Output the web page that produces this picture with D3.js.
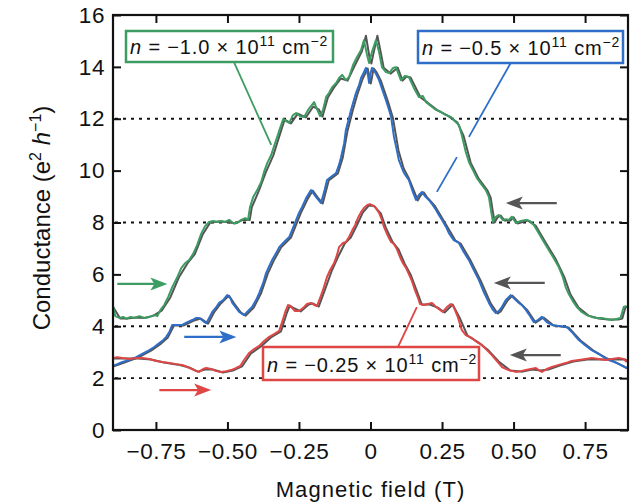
<!DOCTYPE html>
<html><head><meta charset="utf-8">
<script src="https://cdn.jsdelivr.net/npm/d3@7"></script>
<style>body{margin:0;background:#fff} text{font-family:"Liberation Sans",Arial,Helvetica,sans-serif;fill:#111}</style>
</head><body><svg id="c" width="633" height="503"></svg>
<script>
// ---------- DATA ----------
const xTicks = [-0.75, -0.5, -0.25, 0, 0.25, 0.5, 0.75];
const xTickLabels = ["\u22120.75", "\u22120.50", "\u22120.25", "0", "0.25", "0.50", "0.75"];
const yTicks = [0, 2, 4, 6, 8, 10, 12, 14, 16];
const plateaus = [2, 4, 8, 12];
const densities = ["\u22121.0", "\u22120.5", "\u22120.25"];

// n = -1.0e11 (green), forward sweep [B (T), G (e^2/h)]
const greenFwd = [[-0.90,4.78],[-0.892,4.39],[-0.878,4.32],[-0.864,4.36],[-0.853,4.28],[-0.839,4.36],[-0.825,4.32],[-0.808,4.39],[-0.790,4.32],[-0.773,4.36],[-0.755,4.43],[-0.745,4.39],[-0.734,4.63],[-0.721,4.82],[-0.707,5.13],[-0.693,5.51],[-0.675,5.90],[-0.661,6.25],[-0.647,6.44],[-0.634,6.55],[-0.620,6.79],[-0.606,7.13],[-0.592,7.56],[-0.578,7.86],[-0.564,8.02],[-0.550,8.06],[-0.536,8.02],[-0.522,8.06],[-0.508,8.02],[-0.494,8.10],[-0.480,7.98],[-0.466,7.98],[-0.452,8.10],[-0.438,8.17],[-0.428,8.10],[-0.421,8.60],[-0.410,8.98],[-0.396,9.25],[-0.382,9.56],[-0.372,9.95],[-0.361,10.29],[-0.347,10.60],[-0.337,10.95],[-0.326,11.30],[-0.316,11.64],[-0.305,11.99],[-0.295,11.91],[-0.284,11.84],[-0.271,12.14],[-0.260,12.22],[-0.246,12.10],[-0.232,12.07],[-0.218,12.34],[-0.208,12.49],[-0.197,12.64],[-0.187,12.37],[-0.176,12.10],[-0.166,12.34],[-0.155,12.84],[-0.145,12.99],[-0.134,13.22],[-0.120,13.38],[-0.110,13.57],[-0.099,13.69],[-0.086,13.49],[-0.075,13.61],[-0.061,14.07],[-0.047,14.38],[-0.033,14.65],[-0.023,15.03],[-0.012,14.46],[-0.005,14.15],[0.005,14.57],[0.019,15.03],[0.030,14.57],[0.040,13.99],[0.054,13.80],[0.065,13.76],[0.079,13.96],[0.089,13.99],[0.106,13.49],[0.120,13.65],[0.134,13.61],[0.152,13.18],[0.169,12.84],[0.183,12.88],[0.194,12.64],[0.211,12.49],[0.229,12.34],[0.246,12.26],[0.264,12.14],[0.281,12.07],[0.298,11.87],[0.309,11.76],[0.319,11.37],[0.333,10.72],[0.344,10.33],[0.358,10.02],[0.372,9.71],[0.389,9.45],[0.403,9.25],[0.414,8.98],[0.421,8.48],[0.428,8.02],[0.438,8.22],[0.449,8.29],[0.462,8.10],[0.473,8.13],[0.483,8.10],[0.494,8.22],[0.508,7.98],[0.525,8.06],[0.543,8.10],[0.557,8.06],[0.571,7.90],[0.588,7.59],[0.606,7.25],[0.623,6.94],[0.640,6.63],[0.658,6.28],[0.672,5.90],[0.682,5.51],[0.693,5.24],[0.707,4.97],[0.721,4.74],[0.738,4.55],[0.756,4.43],[0.773,4.36],[0.791,4.32],[0.808,4.32],[0.825,4.28],[0.843,4.24],[0.860,4.28],[0.874,4.32],[0.885,4.74],[0.895,4.78]];
// reverse sweep (grey)
const greenRev = [[-0.90,4.75],[-0.875,4.30],[-0.85,4.30],[-0.82,4.34],[-0.79,4.32],[-0.76,4.40],[-0.73,4.60],[-0.70,5.10],[-0.67,5.88],[-0.64,6.42],[-0.614,6.78],[-0.586,7.55],[-0.56,8.00],[-0.53,8.04],[-0.50,8.02],[-0.474,7.96],[-0.446,8.10],[-0.422,8.10],[-0.415,8.58],[-0.39,9.23],[-0.366,9.93],[-0.34,10.58],[-0.32,11.28],[-0.30,11.97],[-0.278,11.82],[-0.254,12.20],[-0.226,12.05],[-0.20,12.47],[-0.18,12.35],[-0.168,12.08],[-0.149,12.82],[-0.128,13.20],[-0.104,13.55],[-0.08,13.47],[-0.055,14.05],[-0.03,14.60],[-0.016,15.20],[-0.004,14.40],[0.003,14.13],[0.011,14.55],[0.024,15.20],[0.036,14.55],[0.046,13.97],[0.07,13.74],[0.095,13.97],[0.112,13.47],[0.126,13.63],[0.14,13.59],[0.175,12.82],[0.20,12.62],[0.235,12.32],[0.27,12.12],[0.304,11.85],[0.325,11.35],[0.35,10.31],[0.378,9.69],[0.409,9.23],[0.42,8.96],[0.427,8.46],[0.434,8.00],[0.444,8.20],[0.455,8.27],[0.468,8.08],[0.489,8.08],[0.50,8.20],[0.514,7.96],[0.549,8.08],[0.577,7.88],[0.612,7.23],[0.646,6.61],[0.678,5.88],[0.699,5.22],[0.727,4.72],[0.762,4.41],[0.797,4.30],[0.831,4.26],[0.866,4.26],[0.88,4.30],[0.891,4.72],[0.90,4.76]];

// n = -0.5e11 (blue)
const blueFwd = [[-0.90,2.47],[-0.885,2.54],[-0.867,2.62],[-0.843,2.70],[-0.819,2.81],[-0.798,2.93],[-0.773,3.08],[-0.756,3.20],[-0.738,3.35],[-0.724,3.47],[-0.714,3.59],[-0.703,3.78],[-0.693,4.05],[-0.675,4.05],[-0.658,4.05],[-0.640,4.16],[-0.623,4.24],[-0.609,4.32],[-0.599,4.32],[-0.585,4.20],[-0.574,4.12],[-0.564,4.32],[-0.553,4.55],[-0.539,4.74],[-0.529,4.90],[-0.515,5.01],[-0.501,5.20],[-0.490,5.09],[-0.483,4.90],[-0.469,4.70],[-0.459,4.55],[-0.442,4.43],[-0.428,4.59],[-0.414,4.74],[-0.400,5.01],[-0.389,5.28],[-0.375,5.67],[-0.365,6.05],[-0.354,6.32],[-0.344,6.55],[-0.330,6.82],[-0.319,7.05],[-0.302,7.25],[-0.284,7.44],[-0.267,7.90],[-0.250,8.37],[-0.239,8.60],[-0.225,8.94],[-0.208,9.25],[-0.190,8.98],[-0.173,8.75],[-0.162,9.18],[-0.152,9.64],[-0.134,9.79],[-0.120,9.91],[-0.110,10.22],[-0.103,10.52],[-0.092,11.06],[-0.086,11.57],[-0.075,12.03],[-0.068,12.34],[-0.058,12.72],[-0.051,12.99],[-0.040,13.30],[-0.033,13.57],[-0.023,13.80],[-0.016,13.96],[-0.009,13.69],[-0.005,13.38],[-0.002,13.65],[0.005,13.96],[0.016,13.80],[0.030,13.49],[0.044,13.03],[0.054,12.72],[0.065,12.34],[0.072,12.07],[0.082,11.30],[0.092,10.79],[0.099,10.41],[0.110,10.10],[0.117,9.91],[0.127,9.75],[0.134,9.64],[0.148,9.18],[0.159,8.87],[0.169,9.06],[0.180,9.18],[0.190,9.02],[0.204,8.87],[0.218,8.67],[0.229,8.48],[0.239,8.29],[0.250,8.10],[0.264,7.83],[0.274,7.59],[0.291,7.32],[0.309,7.21],[0.326,6.86],[0.344,6.55],[0.361,6.17],[0.379,5.78],[0.396,5.32],[0.414,4.90],[0.428,4.63],[0.438,4.51],[0.449,4.59],[0.459,4.74],[0.473,5.01],[0.490,5.20],[0.504,5.05],[0.518,4.90],[0.529,4.82],[0.543,4.63],[0.553,4.47],[0.571,4.16],[0.585,4.24],[0.599,4.36],[0.616,4.16],[0.634,4.05],[0.658,4.01],[0.686,3.97],[0.707,3.74],[0.728,3.47],[0.749,3.28],[0.773,3.08],[0.798,2.93],[0.815,2.81],[0.832,2.70],[0.853,2.62],[0.874,2.51],[0.895,2.39]];
const blueRev = [[-0.90,2.45],[-0.86,2.60],[-0.813,2.79],[-0.767,3.06],[-0.732,3.33],[-0.708,3.57],[-0.687,4.03],[-0.652,4.03],[-0.617,4.22],[-0.593,4.30],[-0.568,4.10],[-0.547,4.53],[-0.523,4.88],[-0.495,5.18],[-0.477,4.88],[-0.453,4.53],[-0.436,4.41],[-0.408,4.72],[-0.383,5.26],[-0.359,6.03],[-0.338,6.53],[-0.313,7.03],[-0.278,7.42],[-0.244,8.35],[-0.219,8.92],[-0.202,9.23],[-0.184,8.96],[-0.167,8.73],[-0.146,9.62],[-0.114,9.89],[-0.097,10.50],[-0.08,11.55],[-0.062,12.32],[-0.045,12.97],[-0.027,13.55],[-0.01,13.94],[0.001,13.36],[0.011,13.94],[0.022,13.78],[0.036,13.47],[0.06,12.70],[0.078,12.05],[0.098,10.77],[0.116,10.08],[0.133,9.73],[0.154,9.16],[0.165,8.85],[0.175,9.04],[0.186,9.16],[0.196,9.00],[0.224,8.65],[0.245,8.27],[0.27,7.81],[0.297,7.30],[0.315,7.19],[0.35,6.53],[0.385,5.76],[0.42,4.88],[0.444,4.49],[0.455,4.57],[0.479,4.99],[0.496,5.18],[0.524,4.88],[0.549,4.61],[0.577,4.14],[0.605,4.34],[0.64,4.03],[0.692,3.95],[0.734,3.45],[0.779,3.06],[0.821,2.79],[0.859,2.60],[0.90,2.37]];

// n = -0.25e11 (red)
const redFwd = [[-0.90,2.78],[-0.885,2.81],[-0.867,2.78],[-0.843,2.74],[-0.819,2.78],[-0.798,2.78],[-0.773,2.74],[-0.749,2.66],[-0.728,2.62],[-0.703,2.58],[-0.679,2.54],[-0.658,2.51],[-0.640,2.43],[-0.623,2.35],[-0.609,2.27],[-0.599,2.24],[-0.585,2.35],[-0.574,2.39],[-0.557,2.35],[-0.539,2.27],[-0.522,2.24],[-0.504,2.27],[-0.487,2.31],[-0.469,2.39],[-0.455,2.47],[-0.442,2.70],[-0.424,2.97],[-0.407,3.12],[-0.389,3.24],[-0.372,3.43],[-0.354,3.59],[-0.337,3.70],[-0.319,3.82],[-0.309,4.16],[-0.298,4.55],[-0.288,4.82],[-0.277,4.74],[-0.264,4.59],[-0.250,4.59],[-0.236,4.70],[-0.222,4.86],[-0.208,4.90],[-0.197,4.82],[-0.187,4.78],[-0.176,5.09],[-0.166,5.40],[-0.152,5.90],[-0.141,6.17],[-0.127,6.44],[-0.117,6.75],[-0.110,7.05],[-0.096,7.21],[-0.086,7.25],[-0.075,7.44],[-0.065,7.67],[-0.054,7.90],[-0.044,8.17],[-0.033,8.40],[-0.023,8.56],[-0.012,8.67],[-0.002,8.71],[0.005,8.67],[0.016,8.60],[0.030,8.37],[0.040,8.10],[0.047,7.83],[0.061,7.48],[0.072,7.25],[0.082,7.17],[0.092,6.98],[0.103,6.67],[0.113,6.44],[0.124,6.25],[0.134,6.01],[0.145,5.74],[0.155,5.40],[0.166,5.09],[0.173,4.86],[0.187,4.82],[0.201,4.86],[0.215,4.90],[0.229,4.74],[0.243,4.63],[0.253,4.55],[0.267,4.74],[0.281,4.86],[0.291,4.74],[0.305,4.36],[0.319,3.86],[0.333,3.66],[0.354,3.55],[0.372,3.39],[0.389,3.28],[0.407,3.08],[0.424,2.89],[0.442,2.66],[0.459,2.43],[0.483,2.31],[0.508,2.24],[0.525,2.27],[0.543,2.31],[0.560,2.35],[0.578,2.39],[0.588,2.31],[0.599,2.24],[0.616,2.35],[0.634,2.43],[0.658,2.51],[0.682,2.58],[0.703,2.66],[0.728,2.70],[0.752,2.74],[0.773,2.78],[0.798,2.74],[0.822,2.70],[0.843,2.74],[0.867,2.78],[0.885,2.74],[0.895,2.62]];
const redRev = [[-0.90,2.76],[-0.861,2.76],[-0.813,2.76],[-0.767,2.72],[-0.722,2.60],[-0.673,2.52],[-0.634,2.41],[-0.603,2.25],[-0.579,2.33],[-0.551,2.33],[-0.516,2.22],[-0.481,2.29],[-0.449,2.45],[-0.418,2.95],[-0.383,3.22],[-0.348,3.57],[-0.313,3.80],[-0.292,4.53],[-0.282,4.80],[-0.271,4.72],[-0.244,4.57],[-0.216,4.84],[-0.202,4.88],[-0.181,4.76],[-0.16,5.38],[-0.135,6.15],[-0.111,6.73],[-0.09,7.19],[-0.069,7.42],[-0.048,7.88],[-0.027,8.38],[-0.006,8.65],[0.011,8.65],[0.036,8.35],[0.053,7.81],[0.078,7.23],[0.098,6.96],[0.119,6.42],[0.14,6.00],[0.161,5.38],[0.179,4.84],[0.207,4.84],[0.235,4.72],[0.259,4.53],[0.287,4.84],[0.311,4.34],[0.339,3.64],[0.378,3.37],[0.413,3.06],[0.448,2.64],[0.489,2.29],[0.531,2.25],[0.566,2.33],[0.594,2.29],[0.622,2.33],[0.664,2.49],[0.709,2.64],[0.758,2.72],[0.804,2.72],[0.849,2.72],[0.891,2.72],[0.90,2.62]];

// sweep-direction arrows [B start, B end, G]
const sweepUp = [[-0.885,-0.710,5.63],[-0.651,-0.469,3.59],[-0.738,-0.557,1.54]];
const sweepDown = [[0.651,0.473,8.75],[0.609,0.431,5.67],[0.665,0.487,2.89]];

// ---------- STYLE / LAYOUT ----------
const colors = {green:"#3d9c62", blue:"#2e6ec8", red:"#df4646", grey:"#555555"};
const m = {l:113, r:628, t:15, b:430};
const svg = d3.select("#c");
const x = d3.scaleLinear().domain([-0.9, 0.9]).range([m.l, m.r]);
const y = d3.scaleLinear().domain([0, 16]).range([m.b, m.t]);

svg.append("defs").append("clipPath").attr("id","clip")
  .append("rect").attr("x",m.l).attr("y",m.t).attr("width",m.r-m.l).attr("height",m.b-m.t);

// plateau lines
svg.append("g").selectAll("line").data(plateaus).join("line")
  .attr("x1", m.l+2).attr("x2", m.r-2).attr("y1", d=>y(d)).attr("y2", d=>y(d))
  .attr("stroke","#111").attr("stroke-width",1.8).attr("stroke-dasharray","3,5");

const line = d3.line().x(d=>x(d[0])).y(d=>y(d[1]));
const gc = svg.append("g").attr("clip-path","url(#clip)");
[greenRev, blueRev, redRev].forEach(s=>{
  gc.append("path").attr("d", line(s)).attr("fill","none").attr("stroke",colors.grey)
    .attr("stroke-width",2).attr("stroke-linejoin","round");
});
[[greenFwd,colors.green],[blueFwd,colors.blue],[redFwd,colors.red]].forEach(([s,c])=>{
  gc.append("path").attr("d", line(s)).attr("fill","none").attr("stroke",c)
    .attr("stroke-width",2).attr("stroke-linejoin","round");
});

// axes
const xb = d3.axisBottom(x).tickValues(xTicks).tickSizeInner(-8).tickSizeOuter(0).tickPadding(13)
  .tickFormat((d,i)=>xTickLabels[i]);
svg.append("g").attr("transform",`translate(0,${m.b})`).call(xb);
svg.append("g").attr("transform",`translate(0,${m.t})`)
  .call(d3.axisTop(x).tickValues(xTicks).tickSizeInner(-8).tickSizeOuter(0).tickFormat(""));
svg.append("g").attr("transform",`translate(${m.l},0)`)
  .call(d3.axisLeft(y).tickValues(yTicks).tickSizeInner(-8).tickSizeOuter(0).tickPadding(8).tickFormat(d3.format("d")));
svg.append("g").attr("transform",`translate(${m.r},0)`)
  .call(d3.axisRight(y).tickValues(yTicks).tickSizeInner(-8).tickSizeOuter(0).tickFormat(""));
svg.selectAll(".domain").remove();
svg.selectAll(".tick line").attr("stroke","#111").attr("stroke-width",2);
svg.selectAll(".tick text").attr("font-size",22.5).attr("fill","#111").attr("letter-spacing",0.6)
  .style("font-family",'"Liberation Sans",Arial,sans-serif');
svg.append("rect").attr("x",m.l).attr("y",m.t).attr("width",m.r-m.l).attr("height",m.b-m.t)
  .attr("fill","none").attr("stroke","#111").attr("stroke-width",2.2);

// axis titles
svg.append("text").attr("x",(m.l+m.r)/2).attr("y",497).attr("text-anchor","middle")
  .attr("font-size",22).attr("letter-spacing",1.1).text("Magnetic field (T)");
const yt = svg.append("text").attr("transform","translate(50,218) rotate(-90)")
  .attr("text-anchor","middle").attr("font-size",24);
yt.append("tspan").text("Conductance (e");
yt.append("tspan").attr("font-size",16).attr("dy",-9).text("2");
yt.append("tspan").attr("dy",9).text(" ");
yt.append("tspan").attr("font-style","italic").text("h");
yt.append("tspan").attr("font-size",16).attr("dy",-9).text("\u22121");
yt.append("tspan").attr("dy",9).text(")");

// arrows
function arrow(x1, x2, yy, col){
  const dir = Math.sign(x2 - x1);
  const L = 17, hw = 6.5, notch = 4;
  svg.append("line").attr("x1",x1).attr("x2",x2 - dir*(L-notch)).attr("y1",yy).attr("y2",yy)
    .attr("stroke",col).attr("stroke-width",2.2);
  svg.append("path").attr("fill",col)
    .attr("d",`M${x2},${yy} L${x2-dir*L},${yy-hw} L${x2-dir*(L-notch)},${yy} L${x2-dir*L},${yy+hw} Z`);
}
const upCols = [colors.green, colors.blue, colors.red];
sweepUp.forEach((a,i)=>arrow(x(a[0]), x(a[1]), y(a[2]), upCols[i]));
sweepDown.forEach(a=>arrow(x(a[0]), x(a[1]), y(a[2]), colors.grey));

// leader lines (data coords)
function seg(b1,g1,b2,g2,col){
  svg.append("line").attr("x1",x(b1)).attr("y1",y(g1)).attr("x2",x(b2)).attr("y2",y(g2))
    .attr("stroke",col).attr("stroke-width",1.8);
}
seg(-0.476,14.15,-0.347,10.99,colors.green);
seg(0.490,14.15,0.344,11.30,colors.blue);
seg(0.302,10.52,0.232,9.18,colors.blue);
seg(0.096,3.20,0.162,4.74,colors.red);

// legend boxes
function legend(bx, by, bw, bh, col, dens){
  svg.append("rect").attr("x",bx).attr("y",by).attr("width",bw).attr("height",bh)
    .attr("fill","#fff").attr("stroke",col).attr("stroke-width",2.5);
  const t = svg.append("text").attr("x",bx+4).attr("y",by+bh-8).attr("font-size",20).attr("letter-spacing",0.85);
  t.append("tspan").attr("font-style","italic").text("n");
  t.append("tspan").text(` = ${dens} \u00d7 10`);
  t.append("tspan").attr("font-size",14).attr("dy",-8).text("11");
  t.append("tspan").attr("dy",8).text(" cm");
  t.append("tspan").attr("font-size",14).attr("dy",-8).text("\u22122");
}
legend(126,31,207,31,colors.green,densities[0]);
legend(418,31,205,32,colors.blue,densities[1]);
legend(263,347,216,33,colors.red,densities[2]);
</script></body></html>
